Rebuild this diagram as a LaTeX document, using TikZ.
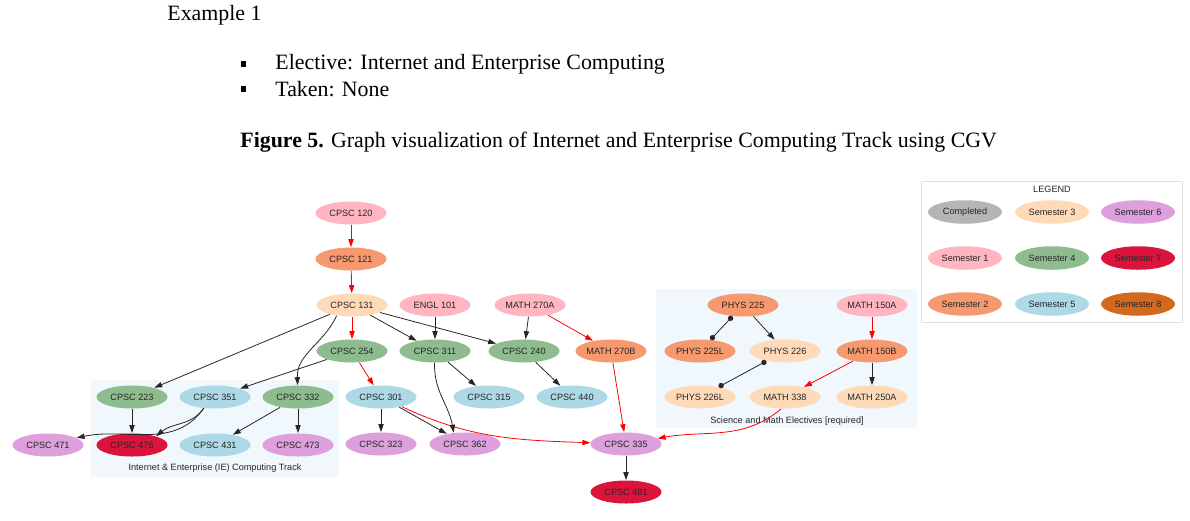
\documentclass[tikz,border=0pt]{standalone}
\usepackage{fontspec}
\setmainfont{Liberation Serif}
\newfontfamily\graphfont{Liberation Sans}
\usetikzlibrary{arrows.meta, positioning, shapes.geometric}
\definecolor{semdone}{HTML}{B5B5B5}
\definecolor{semone}{HTML}{FFB6C1}
\definecolor{semtwo}{HTML}{F7996E}
\definecolor{semthree}{HTML}{FFDAB9}
\definecolor{semfour}{HTML}{8FBC8F}
\definecolor{semfive}{HTML}{ADD8E6}
\definecolor{semsix}{HTML}{DDA0DD}
\definecolor{semseven}{HTML}{DC143C}
\definecolor{semeight}{HTML}{D2691E}
\definecolor{clusterbg}{HTML}{F0F7FD}
\definecolor{legendline}{HTML}{DDDDDD}
\definecolor{inkgray}{HTML}{262626}

\begin{document}
\begin{tikzpicture}[x=0.2mm, y=-0.2mm, >={Triangle[length=4.5pt, width=3pt]}, line width=0.45pt,
  course/.style={ellipse, draw=none, minimum width=1.42cm, minimum height=0.46cm, inner sep=0pt,
    font=\graphfont\fontsize{5.2}{6}\selectfont, text=inkgray},
  legendkey/.style={course, minimum width=1.48cm, minimum height=0.47cm},
  smalltext/.style={font=\graphfont\fontsize{5.2}{6}\selectfont, text=inkgray},
  bodytext/.style={font=\fontsize{12.45}{15}\selectfont, anchor=west, inner sep=0pt},
  done/.style={fill=semdone}, sem1/.style={fill=semone}, sem2/.style={fill=semtwo},
  sem3/.style={fill=semthree}, sem4/.style={fill=semfour}, sem5/.style={fill=semfive},
  sem6/.style={fill=semsix}, sem7/.style={fill=semseven}, sem8/.style={fill=semeight},
  pre/.style={->, draw=black!85},
  req/.style={->, draw=red},
  coreq/.style={{Circle[length=3pt]}-{Circle[length=3pt]}, draw=black!85}]

\useasboundingbox (0,0) rectangle (1190,520);

% Text above the figure
\node[bodytext] (example) at (167,15) {Example 1};
\fill (240.5,61) rectangle (245.5,67);
\node[bodytext] (elective) at (275,64) {Elective: Internet and Enterprise Computing};
\fill (240.5,86) rectangle (245.5,92);
\node[bodytext] (taken) at (275,89) {Taken: None};
\node[bodytext] (caption) at (240,142) {\textbf{Figure 5.} Graph visualization of Internet and Enterprise Computing Track using CGV};

% Clusters
\fill[clusterbg] (91,380) rectangle (339,477);
\node[smalltext] (ielabel) at (215,468) {Internet \& Enterprise (IE) Computing Track};
\fill[clusterbg] (656,289) rectangle (917,428);
\node[smalltext] (scilabel) at (787,421) {Science and Math Electives [required]};

% Legend
\draw[legendline, fill=white] (921,181) rectangle (1182,322);
\node[smalltext] (legendtitle) at (1052,189) {LEGEND};
\node[legendkey, done] (kdone) at (965,212) {Completed};
\node[legendkey, sem1] (kone) at (965,258) {Semester 1};
\node[legendkey, sem2] (ktwo) at (965,304) {Semester 2};
\node[legendkey, sem3] (kthree) at (1052,212) {Semester 3};
\node[legendkey, sem4] (kfour) at (1052,258) {Semester 4};
\node[legendkey, sem5] (kfive) at (1052,304) {Semester 5};
\node[legendkey, sem6] (ksix) at (1138,212) {Semester 6};
\node[legendkey, sem7] (kseven) at (1138,258) {Semester 7};
\node[legendkey, sem8] (keight) at (1138,304) {Semester 8};

% Courses
\node[course, sem1] (c120) at (351,213) {CPSC 120};
\node[course, sem2] (c121) at (351,259) {CPSC 121};
\node[course, sem3] (c131) at (352,305) {CPSC 131};
\node[course, sem1] (engl101) at (435,305) {ENGL 101};
\node[course, sem1] (m270a) at (530,305) {MATH 270A};
\node[course, sem4] (c254) at (352,351) {CPSC 254};
\node[course, sem4] (c311) at (435,351) {CPSC 311};
\node[course, sem4] (c240) at (524,351) {CPSC 240};
\node[course, sem2] (m270b) at (611,351) {MATH 270B};
\node[course, sem4] (c223) at (132,397) {CPSC 223};
\node[course, sem5] (c351) at (215,397) {CPSC 351};
\node[course, sem4] (c332) at (298,397) {CPSC 332};
\node[course, sem5] (c301) at (381,397) {CPSC 301};
\node[course, sem5] (c315) at (489,397) {CPSC 315};
\node[course, sem5] (c440) at (572,397) {CPSC 440};
\node[course, sem6] (c471) at (48,445) {CPSC 471};
\node[course, sem7] (c476) at (132,445) {CPSC 476};
\node[course, sem5] (c431) at (215,445) {CPSC 431};
\node[course, sem6] (c473) at (298,445) {CPSC 473};
\node[course, sem6] (c323) at (381,444) {CPSC 323};
\node[course, sem6] (c362) at (465,444) {CPSC 362};
\node[course, sem6] (c335) at (626,444) {CPSC 335};
\node[course, sem7] (c481) at (626,492) {CPSC 481};

% Science and math electives
\node[course, sem2] (p225) at (743,305) {PHYS 225};
\node[course, sem1] (m150a) at (872,305) {MATH 150A};
\node[course, sem2] (p225l) at (700,351) {PHYS 225L};
\node[course, sem3] (p226) at (785,351) {PHYS 226};
\node[course, sem2] (m150b) at (872,351) {MATH 150B};
\node[course, sem3] (p226l) at (700,397) {PHYS 226L};
\node[course, sem3] (m338) at (785,397) {MATH 338};
\node[course, sem3] (m250a) at (872,397) {MATH 250A};

% Required chain (red)
\draw[req] (c120) -- (c121);
\draw[req] (c121) -- (c131);
\draw[req] (c131) -- (c254);
\draw[req] (c254) -- (c301);
\draw[req] (m270a) -- (m270b);
\draw[req] (m270b) -- (c335);
\draw[req] (c301) to[out=-25, in=178] (c335);
\draw[req] (m150a) -- (m150b);
\draw[req] (m150b) -- (m338);
\draw[req] (m338.-108) to[out=-140, in=10] (c335);

% Prerequisites
\draw[pre] (c131) -- (c223);
\draw[pre] (c131.-145) to[out=-115, in=92] (c332);
\draw[pre] (c131) -- (c311);
\draw[pre] (c131) -- (c240);
\draw[pre] (engl101) -- (c311);
\draw[pre] (m270a) -- (c240);
\draw[pre] (c254) -- (c351);
\draw[pre] (c311) -- (c315);
\draw[pre] (c311) to[out=-92, in=100] (c362.135);
\draw[pre] (c240) -- (c440);
\draw[pre] (c223) -- (c476);
\draw[pre] (c351.-135) to[out=-125, in=12] (c471.14);
\draw[pre] (c351.-135) to[out=-125, in=40] (c476.20);
\draw[pre] (c332) -- (c431);
\draw[pre] (c332) -- (c473);
\draw[pre] (c301) -- (c323);
\draw[pre] (c301) -- (c362);
\draw[pre] (c335) -- (c481);
\draw[pre] (p225) -- (p226);
\draw[pre] (m150b) -- (m250a);

% Co-requisites
\draw[coreq] (p225) -- (p225l);
\draw[coreq] (p226) -- (p226l);

\end{tikzpicture}
\end{document}
